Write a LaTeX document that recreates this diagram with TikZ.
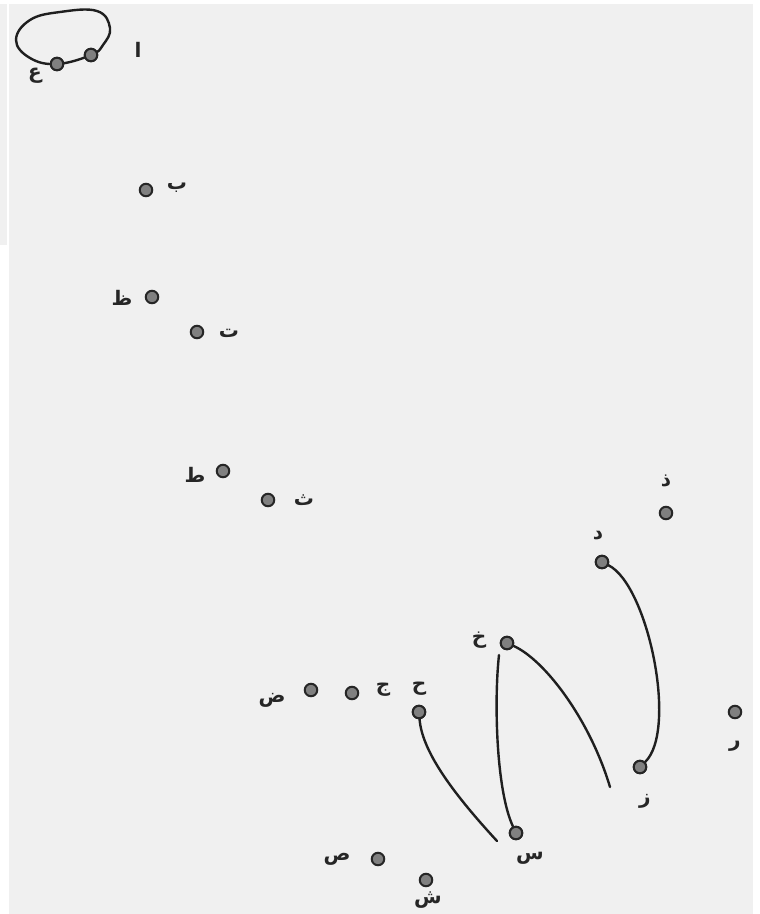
\documentclass[tikz,border=0pt]{standalone}
\usepackage{fontspec}
\TeXXeTstate=1
\newfontfamily\arabicfont[Script=Arabic]{DejaVu Sans}
\definecolor{bggray}{HTML}{F0F0F0}
\definecolor{dotgray}{HTML}{808080}
\begin{document}
\begin{tikzpicture}[x=1pt,y=-1pt,
  dot/.style={circle,draw=black!85,fill=dotgray,line width=2pt,minimum size=12.5pt,inner sep=0pt},
  lbl/.style={font=\arabicfont\bfseries\fontsize{20}{20}\selectfont,inner sep=0pt,text=black!85},
  edge/.style={draw=black!88,line width=2.4pt,line cap=round}]
\useasboundingbox (0,0) rectangle (760,914);
\fill[white] (0,0) rectangle (760,914);
\fill[bggray] (9,4) rectangle (753,914);
\fill[bggray] (0,4) rectangle (7,245);
% nodes
\node[dot] (ayn) at (57,64) {};
\node[dot] (alif) at (91,55) {};
\node[dot] (ba) at (146,190) {};
\node[dot] (zha) at (152,297) {};
\node[dot] (ta) at (197,332) {};
\node[dot] (tta) at (223,471) {};
\node[dot] (tha) at (268,500) {};
\node[dot] (dhal) at (666,513) {};
\node[dot] (dal) at (602,562) {};
\node[dot] (kha) at (507,643) {};
\node[dot] (hha) at (419,712) {};
\node[dot] (jim) at (352,693) {};
\node[dot] (dad) at (311,690) {};
\node[dot] (ra) at (735,712) {};
\node[dot] (zay) at (640,767) {};
\node[dot] (sin) at (516,833) {};
\node[dot] (sad) at (378,859) {};
\node[dot] (shin) at (426,880) {};
% labels
\node[lbl] (Layn) at (35,76) {\beginR ع\endR};
\node[lbl] (Lalif) at (138,50) {\beginR ا\endR};
\node[lbl] (Lba) at (177,188) {\beginR ب\endR};
\node[lbl] (Lzha) at (122,298) {\beginR ظ\endR};
\node[lbl] (Lta) at (229,333) {\beginR ت\endR};
\node[lbl] (Ltta) at (195,475) {\beginR ط\endR};
\node[lbl] (Ltha) at (304,500) {\beginR ث\endR};
\node[lbl] (Ldhal) at (666,481) {\beginR ذ\endR};
\node[lbl] (Ldal) at (598,536) {\beginR د\endR};
\node[lbl] (Lkha) at (479,640) {\beginR خ\endR};
\node[lbl] (Lhha) at (419,689) {\beginR ح\endR};
\node[lbl] (Ljim) at (383,690) {\beginR ج\endR};
\node[lbl] (Ldad) at (272,700) {\beginR ض\endR};
\node[lbl] (Lra) at (735,746) {\beginR ر\endR};
\node[lbl] (Lzay) at (645,801) {\beginR ز\endR};
\node[lbl] (Lsin) at (530,858) {\beginR س\endR};
\node[lbl] (Lsad) at (337,859) {\beginR ص\endR};
\node[lbl] (Lshin) at (428,900) {\beginR ش\endR};
% free ends
\coordinate (e1) at (610,787);
\coordinate (s2) at (499,655);
\coordinate (e3) at (497,841);
% connectors
\draw[edge] plot[smooth cycle, tension=0.7] coordinates {(ayn) (30,58) (16,40) (30,20) (60,12) (97,11) (110,28) (103,45) (alif)};
\draw[edge] (dal) .. controls (648,585) and (678,730) .. (zay);
\draw[edge] (kha) .. controls (545,660) and (590,720) .. (e1);
\draw[edge] (s2) .. controls (494,700) and (496,790) .. (sin);
\draw[edge] (hha) .. controls (422,750) and (450,790) .. (e3);
% redraw dots on top
\foreach \n in {ayn,alif,dal,kha,hha,zay,sin}{\node[dot] at (\n) {};}
\end{tikzpicture}
\end{document}
